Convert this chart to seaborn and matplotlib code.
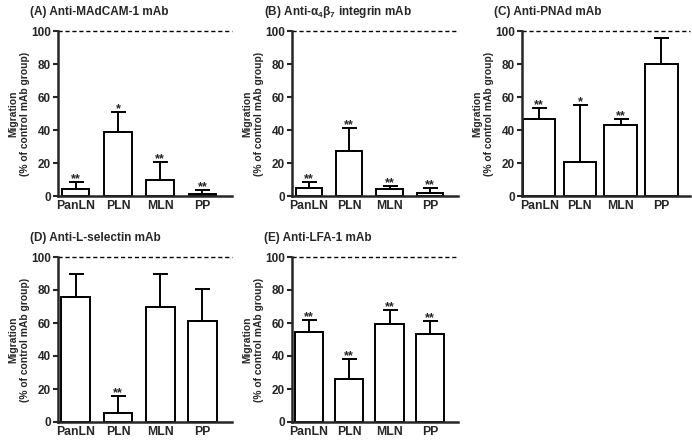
import numpy as np
import pandas as pd
import matplotlib
matplotlib.use("Agg")
import matplotlib.pyplot as plt
import seaborn as sns

# 림프절 부위 (x축)
sites = ['PanLN', 'PLN', 'MLN', 'PP']

# (A) Anti-MAdCAM-1 mAb
madcam_mean = [4.5, 38.5, 9.5, 1.5]
madcam_err = [4.0, 12.5, 11.0, 2.0]
madcam_sig = ['**', '*', '**', '**']

# (B) Anti-a4b7 integrin mAb
a4b7_mean = [5.0, 27.0, 4.5, 2.0]
a4b7_err = [3.5, 14.5, 1.5, 3.0]
a4b7_sig = ['**', '**', '**', '**']

# (C) Anti-PNAd mAb
pnad_mean = [46.5, 20.5, 43.0, 80.0]
pnad_err = [7.0, 34.5, 3.5, 15.5]
pnad_sig = ['**', '*', '**', '']

# (D) Anti-L-selectin mAb
lsel_mean = [76.0, 5.5, 70.0, 61.0]
lsel_err = [14.0, 10.5, 20.0, 19.5]
lsel_sig = ['', '**', '', '']

# (E) Anti-LFA-1 mAb
lfa1_mean = [54.5, 26.0, 59.5, 53.5]
lfa1_err = [7.5, 12.0, 8.5, 8.0]
lfa1_sig = ['**', '**', '**', '**']

titles = ['(A) Anti-MAdCAM-1 mAb',
          r'(B) Anti-$\alpha_4\beta_7$ integrin mAb',
          '(C) Anti-PNAd mAb',
          '(D) Anti-L-selectin mAb',
          '(E) Anti-LFA-1 mAb']

sns.set_style('ticks')
plt.rcParams['font.family'] = ['Liberation Sans', 'DejaVu Sans']
plt.rcParams['font.weight'] = 'bold'
plt.rcParams['mathtext.fontset'] = 'custom'
plt.rcParams['mathtext.rm'] = 'Liberation Sans:bold'
plt.rcParams['mathtext.bf'] = 'Liberation Sans:bold'
plt.rcParams['mathtext.it'] = 'Liberation Sans:bold'
plt.rcParams['mathtext.default'] = 'bf'

W, H = 692, 443
# 패널 위치 (픽셀: left, top, right, bottom)
boxes = [(58, 31, 232, 196), (292, 31, 458, 196), (522, 31, 690, 196),
         (58, 257, 232, 422), (292, 257, 458, 422)]


def draw_panel(fig, box, title, mean, err, sig, bar_w):
    l, t, r, b = box
    ax = fig.add_axes([l / W, 1 - b / H, (r - l) / W, (b - t) / H])
    df = pd.DataFrame({'site': sites, 'value': mean})
    sns.barplot(x='site', y='value', data=df, color='white', saturation=1,
                edgecolor='black', linewidth=1.4, width=bar_w,
                errorbar=None, ax=ax)
    x = np.arange(len(sites))
    ax.errorbar(x, mean, yerr=[np.zeros(len(mean)), err], fmt='none',
                ecolor='black', elinewidth=1.4, capsize=5.4, capthick=1.4)
    for i in range(len(sites)):
        if sig[i]:
            ax.text(x[i], mean[i] + err[i] - 2.0, sig[i], ha='center',
                    va='bottom', fontsize=9, fontweight='bold')
    ax.axhline(100, color='black', ls=(0, (3, 2)), lw=1.0, clip_on=False)
    ax.set_ylim(0, 100)
    ax.set_xlim(-0.42, 3.7)
    ax.set_yticks([0, 20, 40, 60, 80, 100])
    ax.set_xlabel('')
    ax.set_ylabel('Migration\n(% of control mAb group)', fontsize=7.4,
                  fontweight='bold', labelpad=1, linespacing=1.15)
    ax.tick_params(axis='y', length=3.5, width=1.5, labelsize=8.5, pad=1.5)
    ax.tick_params(axis='x', length=0, labelsize=8.8, pad=3)
    for lab in ax.get_xticklabels() + ax.get_yticklabels():
        lab.set_fontweight('bold')
    sns.despine(ax=ax)
    ax.spines['left'].set_linewidth(1.8)
    ax.spines['bottom'].set_linewidth(1.8)
    ax.annotate(title, xy=(0, 1), xycoords='axes fraction',
                xytext=(-28, 19), textcoords='offset pixels',
                ha='left', va='center', fontsize=8.5, fontweight='bold')
    return ax


def main():
    fig = plt.figure(figsize=(W / 100, H / 100), dpi=100)
    data = [(madcam_mean, madcam_err, madcam_sig, 0.65),
            (a4b7_mean, a4b7_err, a4b7_sig, 0.65),
            (pnad_mean, pnad_err, pnad_sig, 0.8),
            (lsel_mean, lsel_err, lsel_sig, 0.68),
            (lfa1_mean, lfa1_err, lfa1_sig, 0.7)]
    for box, title, (m, e, s, w) in zip(boxes, titles, data):
        draw_panel(fig, box, title, m, e, s, w)
    fig.savefig('out.png', dpi=100)


if __name__ == "__main__":
    main()
